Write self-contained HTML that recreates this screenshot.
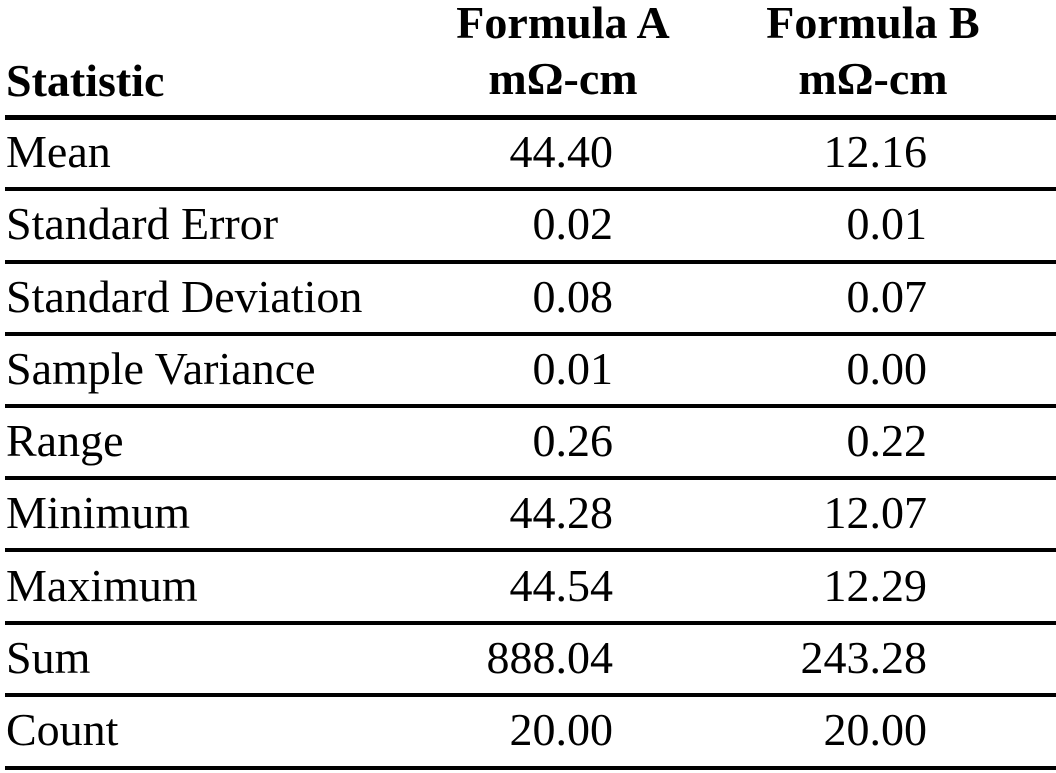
<!DOCTYPE html>
<html><head><meta charset="utf-8"><style>
html,body{margin:0;padding:0;background:#fff;}
body{width:1056px;height:773px;position:relative;overflow:hidden;font-family:"Liberation Serif",serif;font-size:46px;color:#000;}
.t{position:absolute;line-height:46px;white-space:nowrap;}
.b{font-weight:bold;}
.r{text-align:right;width:300px;}
.c{text-align:center;width:300px;}
.l{position:absolute;left:5px;right:0;height:4px;background:#000;}
</style></head><body>
<div class="t b" style="left:6px;top:58px">Statistic</div>
<div class="t b c" style="left:413px;top:0px">Formula A</div>
<div class="t b c" style="left:413px;top:56px">mΩ-cm</div>
<div class="t b c" style="left:723px;top:0px">Formula B</div>
<div class="t b c" style="left:723px;top:56px">mΩ-cm</div>
<div class="l" style="top:115px;height:5px"></div>
<div class="l" style="top:187px"></div>
<div class="l" style="top:260px"></div>
<div class="l" style="top:332px"></div>
<div class="l" style="top:404px"></div>
<div class="l" style="top:476px"></div>
<div class="l" style="top:548px"></div>
<div class="l" style="top:621px"></div>
<div class="l" style="top:693px"></div>
<div class="l" style="top:766px"></div>

<div class="t" style="left:6px;top:129px">Mean</div>
<div class="t r" style="left:313px;top:129px">44.40</div>
<div class="t r" style="left:627px;top:129px">12.16</div>

<div class="t" style="left:6px;top:201px">Standard Error</div>
<div class="t r" style="left:313px;top:201px">0.02</div>
<div class="t r" style="left:627px;top:201px">0.01</div>

<div class="t" style="left:6px;top:274px">Standard Deviation</div>
<div class="t r" style="left:313px;top:274px">0.08</div>
<div class="t r" style="left:627px;top:274px">0.07</div>

<div class="t" style="left:6px;top:346px">Sample Variance</div>
<div class="t r" style="left:313px;top:346px">0.01</div>
<div class="t r" style="left:627px;top:346px">0.00</div>

<div class="t" style="left:6px;top:418px">Range</div>
<div class="t r" style="left:313px;top:418px">0.26</div>
<div class="t r" style="left:627px;top:418px">0.22</div>

<div class="t" style="left:6px;top:490px">Minimum</div>
<div class="t r" style="left:313px;top:490px">44.28</div>
<div class="t r" style="left:627px;top:490px">12.07</div>

<div class="t" style="left:6px;top:563px">Maximum</div>
<div class="t r" style="left:313px;top:563px">44.54</div>
<div class="t r" style="left:627px;top:563px">12.29</div>

<div class="t" style="left:6px;top:635px">Sum</div>
<div class="t r" style="left:313px;top:635px">888.04</div>
<div class="t r" style="left:627px;top:635px">243.28</div>

<div class="t" style="left:6px;top:707px">Count</div>
<div class="t r" style="left:313px;top:707px">20.00</div>
<div class="t r" style="left:627px;top:707px">20.00</div>
</body></html>
